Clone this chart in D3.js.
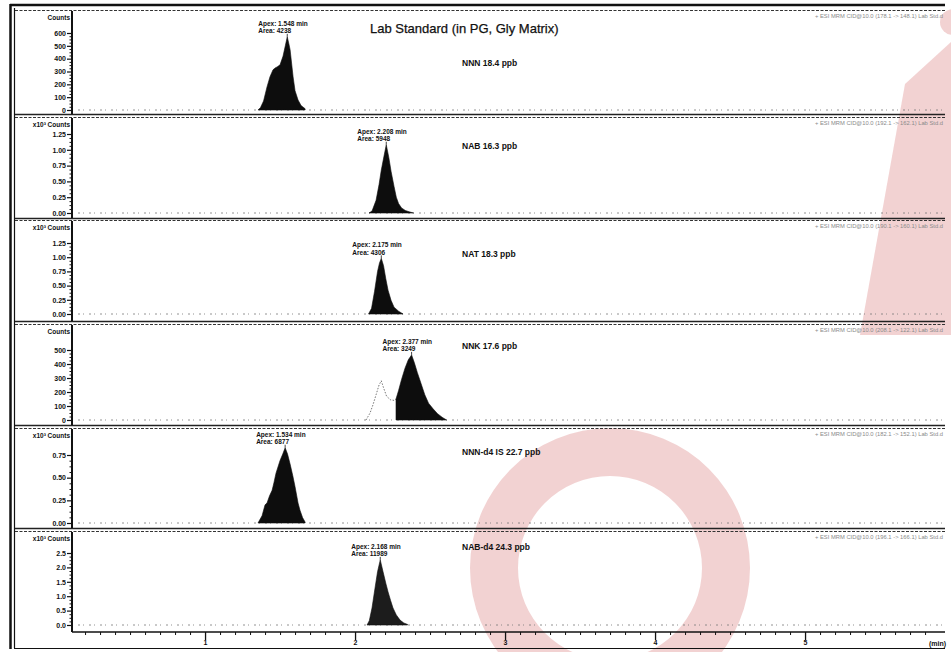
<!DOCTYPE html>
<html>
<head>
<meta charset="utf-8">
<script src="https://cdn.jsdelivr.net/npm/d3@7"></script>
<style>
  body { margin: 0; background: #fff; }
  svg { display: block; font-family: "Liberation Sans", Arial, sans-serif; }
</style>
</head>
<body>
<svg id="chart" width="951" height="652"></svg>
<script>
// ---- data ----
const title = "Lab Standard (in PG, Gly Matrix)";
const compounds = ["NNN 18.4 ppb", "NAB 16.3 ppb", "NAT 18.3 ppb", "NNK 17.6 ppb", "NNN-d4 IS 22.7 ppb", "NAB-d4 24.3 ppb"];
const transitions = [
  "+ ESI MRM CID@10.0 (178.1 -> 148.1) Lab Std.d",
  "+ ESI MRM CID@10.0 (192.1 -> 162.1) Lab Std.d",
  "+ ESI MRM CID@10.0 (190.1 -> 160.1) Lab Std.d",
  "+ ESI MRM CID@10.0 (208.1 -> 122.1) Lab Std.d",
  "+ ESI MRM CID@10.0 (182.1 -> 152.1) Lab Std.d",
  "+ ESI MRM CID@10.0 (196.1 -> 166.1) Lab Std.d"
];
const yUnits = ["Counts", "x10\u00B3 Counts", "x10\u00B3 Counts", "Counts", "x10\u00B3 Counts", "x10\u00B3 Counts"];
const yTickValues = [
  [0, 100, 200, 300, 400, 500, 600],
  [0, 0.25, 0.5, 0.75, 1.0, 1.25],
  [0, 0.25, 0.5, 0.75, 1.0, 1.25],
  [0, 100, 200, 300, 400, 500],
  [0, 0.25, 0.5, 0.75],
  [0, 0.5, 1.0, 1.5, 2.0, 2.5]
];
const yTickFormats = ["d", ".2f", ".2f", "d", ".2f", ".1f"];
const apexTimes = [1.548, 2.208, 2.175, 2.377, 1.534, 2.168];
const peakAreas = [4238, 5948, 4306, 3249, 6877, 11989];
const timeTicks = [1, 2, 3, 4, 5];
const timeDomain = [0.113, 5.933];

// integrated peak traces (time in min, signal in axis units)
const nnnTime   = [1.353, 1.37, 1.39, 1.413, 1.433, 1.453, 1.47, 1.48, 1.50, 1.52, 1.535, 1.548, 1.558, 1.567, 1.587, 1.60, 1.62, 1.64, 1.667];
const nnnSignal = [0, 20, 70, 180, 260, 313, 330, 335, 352, 420, 500, 570, 520, 470, 258, 150, 78, 35, 10];

const nabTime   = [2.093, 2.113, 2.14, 2.16, 2.175, 2.193, 2.208, 2.225, 2.24, 2.26, 2.275, 2.29, 2.31, 2.335, 2.36, 2.39];
const nabSignal = [0, 0.03, 0.2, 0.45, 0.68, 0.9, 1.08, 0.88, 0.66, 0.42, 0.25, 0.15, 0.08, 0.04, 0.02, 0];

const natTime   = [2.09, 2.11, 2.13, 2.15, 2.163, 2.175, 2.19, 2.205, 2.22, 2.24, 2.26, 2.29, 2.32];
const natSignal = [0, 0.1, 0.4, 0.75, 0.9, 0.98, 0.85, 0.62, 0.42, 0.24, 0.12, 0.05, 0];

const nnkTime   = [2.273, 2.29, 2.31, 2.333, 2.355, 2.377, 2.395, 2.415, 2.44, 2.465, 2.49, 2.52, 2.55, 2.58, 2.61];
const nnkSignal = [150, 210, 290, 370, 430, 465, 410, 340, 260, 180, 120, 80, 45, 20, 0];
// NNK transition, earlier isomer (not integrated)
const nnkFrontTime   = [2.073, 2.1, 2.12, 2.14, 2.16, 2.175, 2.19, 2.21, 2.235, 2.26, 2.273];
const nnkFrontSignal = [0, 50, 110, 180, 250, 280, 230, 170, 145, 140, 150];

const nnnD4Time   = [1.353, 1.38, 1.40, 1.413, 1.43, 1.447, 1.46, 1.473, 1.50, 1.518, 1.534, 1.55, 1.567, 1.585, 1.60, 1.62, 1.633, 1.65, 1.667];
const nnnD4Signal = [0, 0.08, 0.2, 0.22, 0.3, 0.36, 0.45, 0.55, 0.69, 0.76, 0.83, 0.76, 0.65, 0.52, 0.40, 0.22, 0.14, 0.06, 0.01];

const nabD4Time   = [2.08, 2.095, 2.113, 2.133, 2.15, 2.168, 2.187, 2.205, 2.22, 2.237, 2.253, 2.275, 2.3, 2.325, 2.35];
const nabD4Signal = [0, 0.15, 0.59, 1.28, 1.85, 2.26, 1.84, 1.45, 1.15, 0.85, 0.59, 0.35, 0.17, 0.07, 0.02];

const peakTraces = [
  [nnnTime, nnnSignal], [nabTime, nabSignal], [natTime, natSignal],
  [nnkTime, nnkSignal], [nnnD4Time, nnnD4Signal], [nabD4Time, nabD4Signal]
];

// ---- layout ----
const W = 951, H = 652;
const plotLeft = 72, plotRight = 945;
// per panel: frame top, zero line, top tick position, frame bottom
const panelTop    = [10, 117, 220, 324, 428, 531];
const panelZero   = [110, 213, 314, 420, 523, 625];
const panelTopTck = [33, 134, 243, 350, 455, 553];
const panelBottom = [114, 218, 321, 425, 528, 632];
const labelY      = [66, 149, 257, 349, 455, 550];

const svg = d3.select("#chart");
svg.append("rect").attr("width", W).attr("height", H).attr("fill", "#fff");

// faint watermark layer
const wm = svg.append("g").attr("fill", "#c83c3c").attr("fill-opacity", 0.23);
wm.append("path")
  .attr("d", d3.arc().innerRadius(92).outerRadius(140).startAngle(0).endAngle(2 * Math.PI)())
  .attr("transform", "translate(610,568)");
wm.append("path").attr("d", "M905,84 L951,42 L951,335 L860,335 Z");
wm.append("circle").attr("cx", 953).attr("cy", 22).attr("r", 13);

const x = d3.scaleLinear().domain(timeDomain).range([plotLeft, plotRight]);

// outer frame
const frame = svg.append("g").attr("stroke", "#111").attr("fill", "none");
frame.append("line").attr("x1", 10).attr("x2", 945).attr("y1", 5).attr("y2", 5).attr("stroke-width", 2.5);
frame.append("line").attr("x1", 10.5).attr("x2", 10.5).attr("y1", 4).attr("y2", 649).attr("stroke-width", 2.5);
frame.append("line").attr("x1", 14.5).attr("x2", 14.5).attr("y1", 8).attr("y2", 648).attr("stroke-width", 1.2);
frame.append("line").attr("x1", 14).attr("x2", 945).attr("y1", 648.5).attr("y2", 648.5).attr("stroke-width", 1.2);

compounds.forEach((name, i) => {
  const g = svg.append("g");
  const y = d3.scaleLinear()
    .domain([0, d3.max(yTickValues[i])])
    .range([panelZero[i], panelTopTck[i]]);

  // panel frame lines
  g.append("line").attr("x1", 15).attr("x2", plotRight).attr("y1", panelTop[i] + 0.5).attr("y2", panelTop[i] + 0.5)
    .attr("stroke", "#333").attr("stroke-width", 1).attr("stroke-dasharray", "3,1.5");
  if (i < 5) {
    g.append("line").attr("x1", 15).attr("x2", plotRight).attr("y1", panelBottom[i] + 0.5).attr("y2", panelBottom[i] + 0.5)
      .attr("stroke", "#222").attr("stroke-width", 1.3);
  }

  // noisy baseline
  g.append("line").attr("x1", plotLeft).attr("x2", plotRight).attr("y1", panelZero[i]).attr("y2", panelZero[i])
    .attr("stroke", "#777").attr("stroke-width", 0.8).attr("stroke-dasharray", "1,5,2,3");

  // y axis
  const yMinor = [];
  const vals = yTickValues[i];
  const step = vals[1] - vals[0];
  for (let k = 0; k < vals.length - 1; k++) for (let m = 1; m < 4; m++) yMinor.push(vals[k] + step * m / 4);
  g.append("g").attr("transform", `translate(${plotLeft},0)`)
    .call(d3.axisLeft(y).tickValues(yMinor).tickSize(2.5).tickFormat(""))
    .call(a => a.select(".domain").remove())
    .selectAll("line").attr("stroke", "#111");
  const ax = g.append("g").attr("transform", `translate(${plotLeft},0)`)
    .call(d3.axisLeft(y).tickValues(vals).tickSize(5).tickPadding(1).tickFormat(d3.format(yTickFormats[i])));
  ax.select(".domain").remove();
  ax.selectAll("line").attr("stroke", "#111").attr("stroke-width", 1.2);
  ax.selectAll("text").attr("font-size", 7).attr("font-weight", "bold").attr("fill", "#111")
    .attr("font-family", "Liberation Sans, Arial, sans-serif");

  g.append("line").attr("x1", plotLeft).attr("x2", plotLeft).attr("y1", panelTop[i] + 1).attr("y2", panelBottom[i])
    .attr("stroke", "#111").attr("stroke-width", 2);

  g.append("text").attr("x", plotLeft - 2).attr("y", panelTop[i] + 10)
    .attr("text-anchor", "end").attr("font-size", 6.5).attr("font-weight", "bold").attr("fill", "#111")
    .text(yUnits[i]);

  // transition header
  g.append("text").attr("x", plotRight - 2).attr("y", panelTop[i] + 8)
    .attr("text-anchor", "end").attr("font-size", 5.8).attr("fill", "#8a8a8a")
    .text(transitions[i]);

  // peaks
  const [ts, vs] = peakTraces[i];
  const pts = ts.map((t, k) => [t, vs[k]]);
  const area = d3.area().x(d => x(d[0])).y0(y(0)).y1(d => y(d[1])).curve(d3.curveLinear);
  if (i === 3) {
    const front = nnkFrontTime.map((t, k) => [t, nnkFrontSignal[k]]);
    g.append("path").attr("d", d3.line().x(d => x(d[0])).y(d => y(d[1]))(front))
      .attr("fill", "none").attr("stroke", "#555").attr("stroke-width", 0.8).attr("stroke-dasharray", "1.5,1.5");
  }
  g.append("path").attr("d", area(pts)).attr("fill", i === 5 ? "#1c1c1c" : "#0d0d0d")
    .attr("stroke", "#0d0d0d").attr("stroke-width", 0.6);

  // apex annotation
  const apexIdx = ts.indexOf(apexTimes[i]);
  const ax0 = x(apexTimes[i]), ay0 = y(vs[apexIdx]);
  g.append("line").attr("x1", ax0).attr("x2", ax0).attr("y1", ay0 - 3).attr("y2", ay0)
    .attr("stroke", "#111").attr("stroke-width", 0.8);
  const lab = g.append("text").attr("font-size", 6.5).attr("font-weight", "bold").attr("fill", "#111");
  lab.append("tspan").attr("x", ax0 - 29).attr("y", ay0 - 11).text(`Apex: ${apexTimes[i].toFixed(3)} min`);
  lab.append("tspan").attr("x", ax0 - 29).attr("y", ay0 - 3.5).text(`Area: ${peakAreas[i]}`);

  // compound label
  g.append("text").attr("x", 462).attr("y", labelY[i])
    .attr("font-size", 8.5).attr("font-weight", "bold").attr("fill", "#111").text(name);
});

// title
svg.append("text").attr("x", 370).attr("y", 33).attr("font-size", 13).attr("fill", "#111")
  .attr("stroke", "#111").attr("stroke-width", 0.25).text(title);

// time axis
const xMinor = d3.range(2, 59).map(k => k / 10).filter(v => v > timeDomain[0] && v < timeDomain[1] && Math.abs(v - Math.round(v)) > 1e-6);
svg.append("g").attr("transform", "translate(0,632)")
  .call(d3.axisBottom(x).tickValues(xMinor).tickSize(3).tickFormat(""))
  .call(a => a.select(".domain").remove())
  .selectAll("line").attr("stroke", "#111");
const xa = svg.append("g").attr("transform", "translate(0,632)")
  .call(d3.axisBottom(x).tickValues(timeTicks).tickSize(8).tickPadding(0).tickFormat(d3.format("d")));
xa.select(".domain").remove();
xa.selectAll("line").attr("stroke", "#111").attr("stroke-width", 1.3);
xa.selectAll("text").attr("font-size", 7).attr("font-weight", "bold").attr("fill", "#111")
  .attr("font-family", "Liberation Sans, Arial, sans-serif");
svg.append("line").attr("x1", plotLeft).attr("x2", plotRight).attr("y1", 632).attr("y2", 632)
  .attr("stroke", "#111").attr("stroke-width", 1.5);
svg.append("text").attr("x", 946).attr("y", 646).attr("text-anchor", "end")
  .attr("font-size", 7).attr("font-weight", "bold").attr("fill", "#111").text("(min)");
</script>
</body>
</html>
